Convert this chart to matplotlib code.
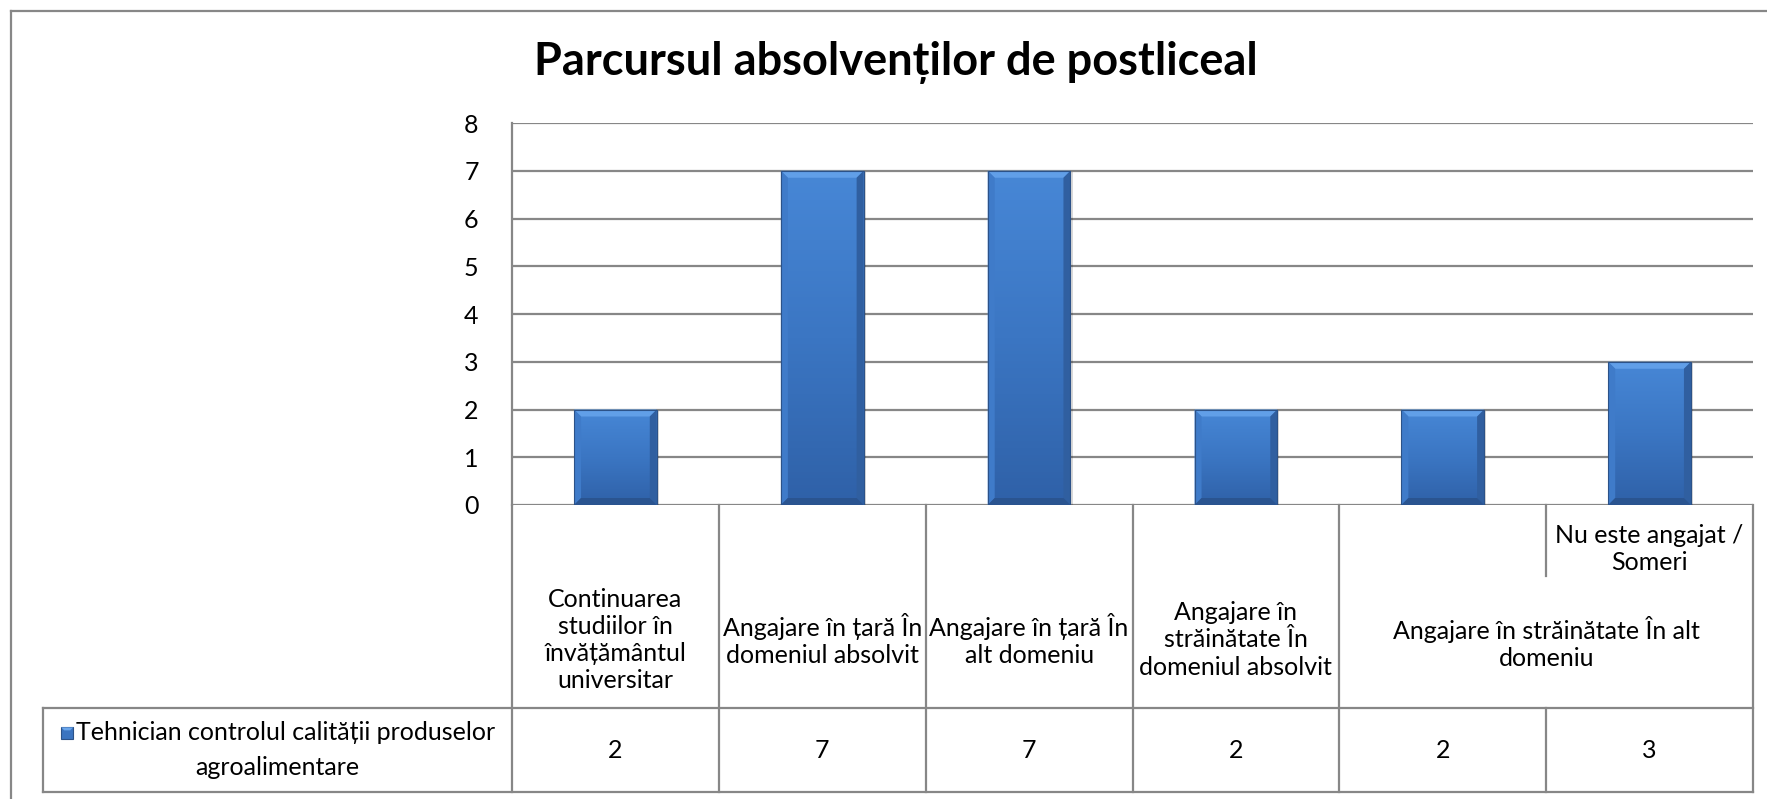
import matplotlib.pyplot as plt
import numpy as np
from matplotlib.patches import Polygon, Rectangle
from matplotlib.lines import Line2D
from matplotlib.colors import LinearSegmentedColormap

plt.rcParams['font.family'] = ['Lato', 'DejaVu Sans']

# date
titlu = 'Parcursul absolvenților de postliceal'
serie_l1 = 'Tehnician controlul calității produselor'
serie_l2 = 'agroalimentare'
categorii = ['Continuarea\nstudiilor în\nînvățământul\nuniversitar',
             'Angajare în țară În\ndomeniul absolvit',
             'Angajare în țară În\nalt domeniu',
             'Angajare în\nstrăinătate În\ndomeniul absolvit',
             'Angajare în străinătate În alt\ndomeniu',
             'Nu este angajat /\nSomeri']
valori = [2, 7, 7, 2, 2, 3]
ytick = list(range(0, 9))

W, H = 1767, 799
fig = plt.figure(figsize=(W / 100, H / 100), dpi=100)
gri = '#878787'
fs = 18


def fx(px):
    return px / W


def fy(py):
    return 1 - py / H


# pozitii in pixeli ale zonelor graficului
x_st, x_dr = 512, 1753
y_sus, y_zero, y_val, y_jos = 123, 505, 708, 792
x_leg = 43

ax = fig.add_axes([fx(x_st), fy(y_zero), (x_dr - x_st) / W, (y_zero - y_sus) / H])
x = np.arange(len(valori))
bare = ax.bar(x, valori, width=0.4, color='#3b74c0', zorder=3, linewidth=0)
ax.set_xlim(-0.5, len(valori) - 0.5)
ax.set_ylim(0, 8)
ax.set_yticks(ytick)
ax.set_xticks([])
ax.tick_params(axis='y', length=0, pad=24, labelsize=fs)
ax.grid(axis='y', color=gri, linewidth=1.6, zorder=1)
for s in ['top', 'right', 'bottom']:
    ax.spines[s].set_visible(False)
ax.spines['left'].set_color(gri)
ax.spines['left'].set_linewidth(1.6)

# efect de relief pe bare
px_x = (x_dr - x_st) / len(valori)
px_y = (y_zero - y_sus) / 8
dx, dy = 7 / px_x, 7 / px_y
grad = LinearSegmentedColormap.from_list('g', ['#2f61a8', '#3b76c3', '#4787d6'])
for b in bare:
    x0, w, h = b.get_x(), b.get_width(), b.get_height()
    ax.add_patch(Rectangle((x0 + 0.006, -0.03), w + 0.004, h, color='#000000', alpha=0.15, zorder=2, linewidth=0))
    im = ax.imshow(np.linspace(0, 1, 100).reshape(-1, 1), cmap=grad, origin='lower',
                   extent=(x0, x0 + w, 0, h), aspect='auto', zorder=3)
    im.set_clip_path(b)
    ax.add_patch(Polygon([(x0, h), (x0 + w, h), (x0 + w - dx, h - dy), (x0 + dx, h - dy)],
                         color='#619fe8', zorder=4, linewidth=0))
    ax.add_patch(Polygon([(x0, 0), (x0, h), (x0 + dx, h - dy), (x0 + dx, dy)],
                         color='#3f7bc9', zorder=4, linewidth=0))
    ax.add_patch(Polygon([(x0 + w, 0), (x0 + w, h), (x0 + w - dx, h - dy), (x0 + w - dx, dy)],
                         color='#305fa0', zorder=4, linewidth=0))
    ax.add_patch(Polygon([(x0, 0), (x0 + w, 0), (x0 + w - dx, dy), (x0 + dx, dy)],
                         color='#2a5490', zorder=4, linewidth=0))
    ax.add_patch(Rectangle((x0, 0), w, h, fill=False, edgecolor='#2c5288', linewidth=0.8, zorder=5))
ax.set_xlim(-0.5, len(valori) - 0.5)
ax.set_ylim(0, 8)

# tabelul de date sub grafic
axt = fig.add_axes([fx(x_st), fy(y_jos), (x_dr - x_st) / W, (y_jos - y_zero) / H])
axt.set_xlim(-0.5, len(valori) - 0.5)
axt.set_ylim(0, 1)
axt.axis('off')
yv = (y_jos - y_val) / (y_jos - y_zero)
x_l = -0.5 - (x_st - x_leg) / px_x
y_part = 1 - 0.35 * (1 - yv)

lin = dict(color=gri, linewidth=1.6, clip_on=False)
axt.plot([x_l, 5.5], [yv, yv], **lin)
axt.plot([x_l, 5.5], [0, 0], **lin)
axt.plot([x_l, x_l], [0, yv], **lin)
for xb in np.arange(-0.5, 6, 1):
    if xb == 4.5:
        axt.plot([xb, xb], [0, yv], **lin)
        axt.plot([xb, xb], [y_part, 1], **lin)
    else:
        axt.plot([xb, xb], [0, 1], **lin)

ym = 0.53
ls = 1.22
for i, c in enumerate(categorii):
    if i < 4:
        axt.text(i, ym, c, ha='center', va='center', fontsize=fs, linespacing=ls)
    elif i == 4:
        axt.text(i + 0.5, ym - 0.01, c, ha='center', va='center', fontsize=fs, linespacing=ls)
    else:
        axt.text(i, 0.935, c, ha='center', va='top', fontsize=fs, linespacing=ls)

for i, v in enumerate(valori):
    axt.text(i, yv / 2, str(v), ha='center', va='center', fontsize=fs)

xc = (x_l - 0.5) / 2
t1 = axt.text(xc + 0.04, yv * 0.71, serie_l1, ha='center', va='center', fontsize=fs)
axt.text(xc, yv * 0.29, serie_l2, ha='center', va='center', fontsize=fs)

# marcajul seriei in legenda
fig.canvas.draw()
bb = t1.get_window_extent()
m = 12
mx = bb.x0 - m - 3
my = (bb.y0 + bb.y1) / 2 - m / 2 - 1
fig.add_artist(Rectangle((mx / W, my / H), m / W, m / H, transform=fig.transFigure,
                         facecolor='#3b74c0', edgecolor='#2c5288', linewidth=0.8))
fig.add_artist(Polygon([((mx) / W, (my + m) / H), ((mx + m) / W, (my + m) / H),
                        ((mx + m - 3) / W, (my + m - 3) / H), ((mx + 3) / W, (my + m - 3) / H)],
                       transform=fig.transFigure, color='#6aa6ec', linewidth=0))

fig.text(fx(896), fy(63), titlu, ha='center', va='center', fontsize=32.5, fontweight='bold')

# chenarul exterior
fig.add_artist(Line2D([fx(11), fx(11)], [0, fy(11)], color=gri, linewidth=1.6, transform=fig.transFigure))
fig.add_artist(Line2D([fx(11), 1], [fy(11), fy(11)], color=gri, linewidth=1.6, transform=fig.transFigure))

fig.savefig('out.png', dpi=100)
